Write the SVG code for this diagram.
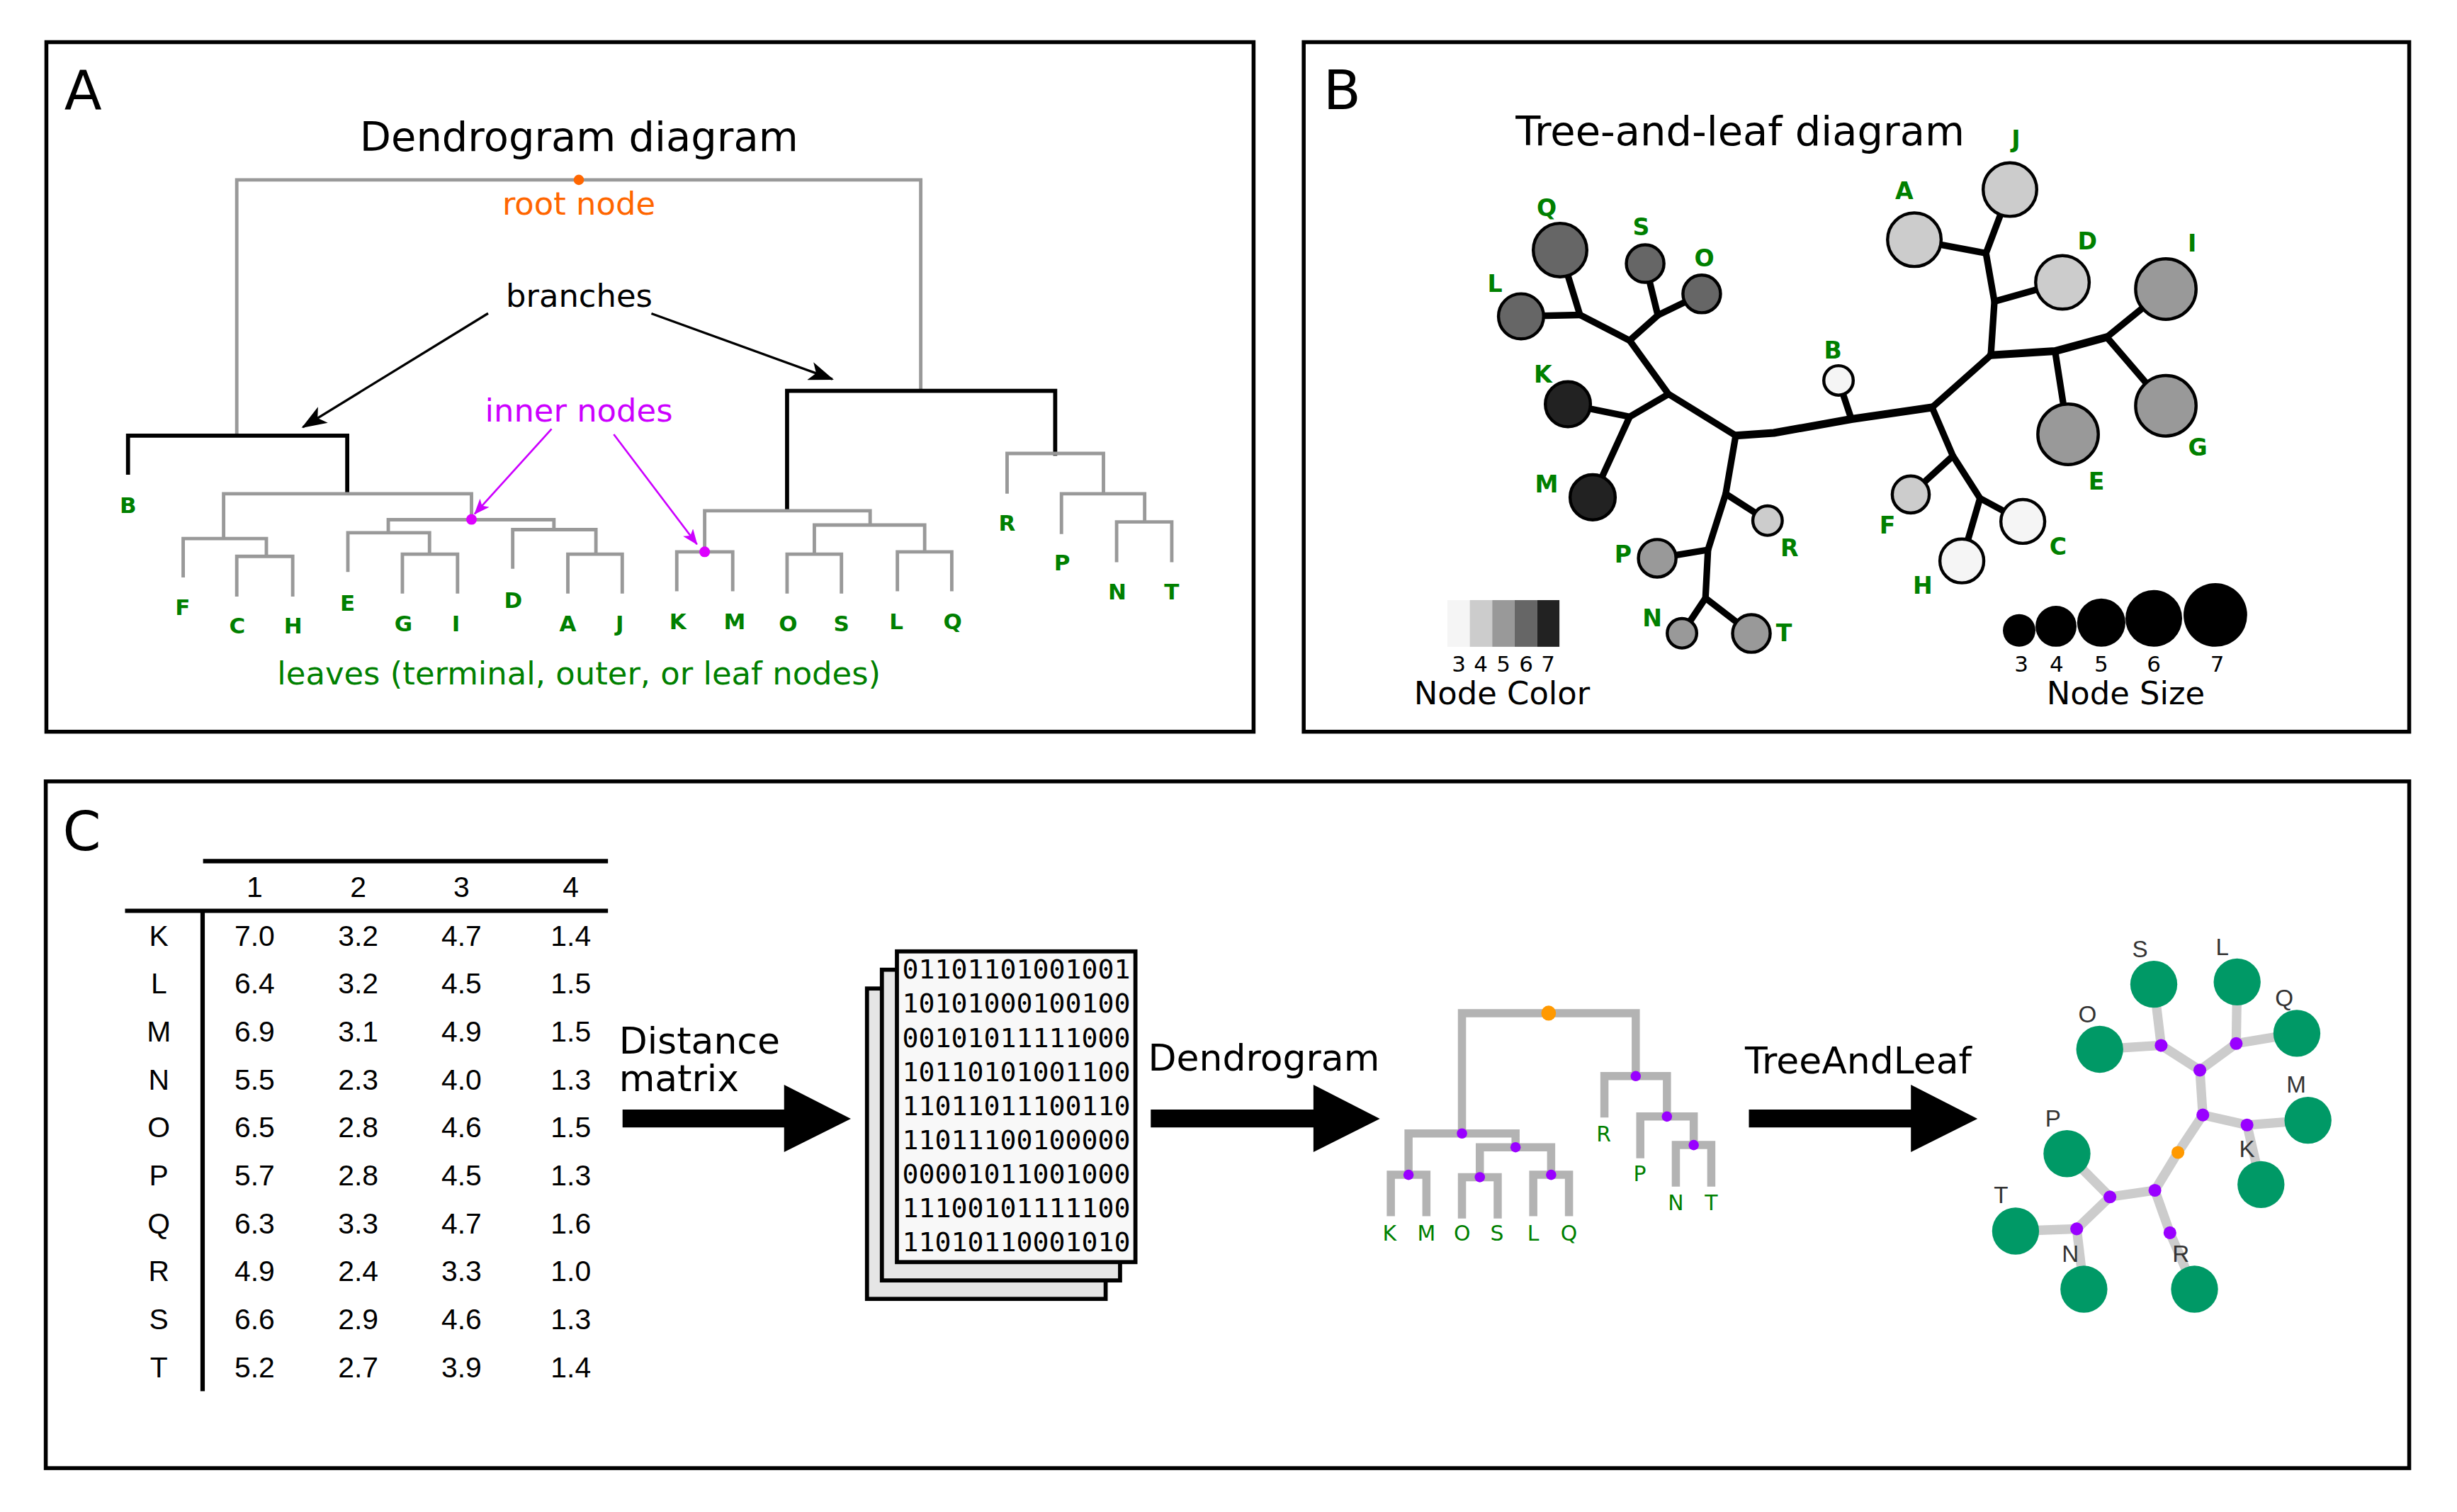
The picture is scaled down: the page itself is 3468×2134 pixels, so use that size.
<svg xmlns="http://www.w3.org/2000/svg" width="3468" height="2134" viewBox="0 0 3468 2134">
<defs>
<style>
.t{font-family:"DejaVu Sans","Liberation Sans",sans-serif}
.ttl{font-family:"DejaVu Sans",sans-serif;font-size:26px;fill:#000;text-anchor:middle}
.pl{font-family:"DejaVu Sans",sans-serif;font-size:35px;fill:#000}
.ann{font-family:"DejaVu Sans",sans-serif;font-size:20.3px;text-anchor:middle}
.lbA{font-family:"DejaVu Sans",sans-serif;font-weight:bold;font-size:14px;fill:#008000;text-anchor:middle}
.lbB{font-family:"DejaVu Sans",sans-serif;font-weight:bold;font-size:15px;fill:#008000;text-anchor:middle}
.gray{fill:none;stroke:#999999;stroke-width:2.2}
.blk{fill:none;stroke:#000;stroke-width:2.6}
.bedge{fill:none;stroke:#000;stroke-width:4.2;stroke-linecap:round;stroke-linejoin:round}
.bnode{stroke:#000;stroke-width:2}
.leg{font-family:"DejaVu Sans",sans-serif;font-size:14px;fill:#000;text-anchor:middle}
.tab{font-family:"Liberation Sans",Arial,sans-serif;font-size:18.5px;fill:#000;text-anchor:middle}
.mono{font-family:"DejaVu Sans Mono","Liberation Mono",monospace;font-size:17px;fill:#000}
.big{font-family:"DejaVu Sans",sans-serif;font-size:23.5px;fill:#000}
.cg{fill:none;stroke:#b3b3b3;stroke-width:5.2}
.cl{font-family:"DejaVu Sans",sans-serif;font-size:13.5px;fill:#008000;text-anchor:middle}
.pd{fill:#9900ff}
.tl{fill:none;stroke:#cccccc;stroke-width:6}
.tn{fill:#009966}
.tlab{font-family:"Liberation Sans",Arial,sans-serif;font-size:15px;fill:#333333;text-anchor:middle}
.page{stroke:#000;stroke-width:2.6}
.box{fill:none;stroke:#000;stroke-width:2.5}
</style>
<marker id="ahB" markerUnits="userSpaceOnUse" viewBox="0 0 16 12" refX="15" refY="6" markerWidth="16" markerHeight="12" orient="auto">
<path d="M0,0 L16,6 L0,12 L4,6 z" fill="#000"/>
</marker>
<marker id="ahM" markerUnits="userSpaceOnUse" viewBox="0 0 10 8" refX="9.5" refY="4" markerWidth="10" markerHeight="8" orient="auto">
<path d="M0,0 L10,4 L0,8 L2.5,4 z" fill="#cc00ff"/>
</marker>
</defs>
<rect x="0" y="0" width="3468" height="2134" fill="#fff"/>
<g transform="scale(2.21173,2.2114)">

<!-- ================= PANEL A ================= -->
<g id="panelA">
<rect class="box" x="29.6" y="26.9" width="770.4" height="440.1"/>
<text class="pl" x="41" y="69.7">A</text>
<text class="ttl" x="369.5" y="96.2">Dendrogram diagram</text>

<g id="a-connectors">
<path class="gray" d="M151.1,277.5 V114.8 H587.6 V249.5"/>
<path class="blk" d="M81.7,303 V278 H221.6 V316"/>
<path class="gray" d="M142.7,343.7 V315.1 H300.9 V331.4"/>
<path class="gray" d="M116.9,368.5 V343.7 H170 V355.1"/>
<path class="gray" d="M151.1,380.8 V355.1 H186.8 V380.8"/>
<path class="gray" d="M247.8,340 V331.7 H353.5 V338"/>
<path class="gray" d="M222,365 V340 H274.1 V353.7"/>
<path class="gray" d="M256.8,378.8 V353.7 H292 V378.8"/>
<path class="gray" d="M327.2,363 V338 H380.3 V353.7"/>
<path class="gray" d="M362.4,378.8 V353.7 H397.1 V378.8"/>
<path class="blk" d="M502.3,326.6 V249.5 H673.4 V290.9"/>
<path class="gray" d="M449.7,352.2 V326 H555.3 V335.1"/>
<path class="gray" d="M431.9,377.4 V352.2 H467.6 V377.4"/>
<path class="gray" d="M519.7,353.7 V335.1 H590.1 V352.2"/>
<path class="gray" d="M502.3,378.8 V353.7 H537 V378.8"/>
<path class="gray" d="M572.7,377.4 V352.2 H607.4 V377.4"/>
<path class="gray" d="M642.7,315.1 V289.4 H704.2 V315.1"/>
<path class="gray" d="M677.4,340.8 V315.1 H730.5 V333.1"/>
<path class="gray" d="M712.6,358.8 V333.1 H747.8 V358.8"/>
<line x1="311.5" y1="200" x2="193.3" y2="272.6" stroke="#000" stroke-width="1.5" marker-end="url(#ahB)"/>
<line x1="415.7" y1="200.1" x2="531.2" y2="242" stroke="#000" stroke-width="1.5" marker-end="url(#ahB)"/>
<line x1="352" y1="273.8" x2="302.9" y2="328" stroke="#cc00ff" stroke-width="1.2" marker-end="url(#ahM)"/>
<line x1="391.7" y1="277.2" x2="444.8" y2="347.4" stroke="#cc00ff" stroke-width="1.2" marker-end="url(#ahM)"/>
</g>

<g id="a-root"><circle cx="369.4" cy="114.8" r="3.3" fill="#ff6600"/></g>
<g id="a-inner1"><circle cx="300.9" cy="331.5" r="3.4" fill="#dd00ff"/></g>
<g id="a-inner2"><circle cx="449.7" cy="352.2" r="3.4" fill="#dd00ff"/></g>

<text class="ann" x="369.4" y="137" fill="#ff6600">root node</text>
<text class="ann" x="369.6" y="196" fill="#000">branches</text>
<text class="ann" x="369.4" y="269" fill="#cc00ff">inner nodes</text>
<text class="ann" x="369.5" y="437" fill="#008000">leaves (terminal, outer, or leaf nodes)</text>

<g id="a-leaves">
<g id="a-leaf-B"><text class="lbA" x="81.7" y="327.4">B</text></g>
<g id="a-leaf-F"><text class="lbA" x="116.6" y="392.4">F</text></g>
<g id="a-leaf-C"><text class="lbA" x="151.4" y="404.4">C</text></g>
<g id="a-leaf-H"><text class="lbA" x="187" y="404.4">H</text></g>
<g id="a-leaf-E"><text class="lbA" x="221.8" y="389.6">E</text></g>
<g id="a-leaf-G"><text class="lbA" x="257.5" y="403">G</text></g>
<g id="a-leaf-I"><text class="lbA" x="291" y="403">I</text></g>
<g id="a-leaf-D"><text class="lbA" x="327.5" y="387.9">D</text></g>
<g id="a-leaf-A"><text class="lbA" x="362.4" y="403">A</text></g>
<g id="a-leaf-J"><text class="lbA" x="395.5" y="403">J</text></g>
<g id="a-leaf-K"><text class="lbA" x="432.6" y="401.6">K</text></g>
<g id="a-leaf-M"><text class="lbA" x="468.8" y="401.6">M</text></g>
<g id="a-leaf-O"><text class="lbA" x="503" y="403">O</text></g>
<g id="a-leaf-S"><text class="lbA" x="537" y="403">S</text></g>
<g id="a-leaf-L"><text class="lbA" x="572" y="401.6">L</text></g>
<g id="a-leaf-Q"><text class="lbA" x="608" y="401.6">Q</text></g>
<g id="a-leaf-R"><text class="lbA" x="642.7" y="338.8">R</text></g>
<g id="a-leaf-P"><text class="lbA" x="677.8" y="363.9">P</text></g>
<g id="a-leaf-N"><text class="lbA" x="713" y="382.5">N</text></g>
<g id="a-leaf-T"><text class="lbA" x="747.8" y="382.5">T</text></g>
</g>
</g>

<!-- ================= PANEL B ================= -->
<g id="panelB">
<rect class="box" x="832" y="26.9" width="705.5" height="440.1"/>
<text class="pl" x="844.5" y="69.7">B</text>
<text class="ttl" x="1110.5" y="92.5">Tree-and-leaf diagram</text>

<g id="b-connectors">
<polyline class="bedge" points="995.6,159.6 1008.3,201 970.7,201.9"/>
<polyline class="bedge" points="1049.9,168.2 1058,201.2 1086,187.6"/>
<polyline class="bedge" points="1008.3,201 1040,217.3 1058,201.2"/>
<polyline class="bedge" points="1040,217.3 1064.8,251.5 1107.7,278"/>
<polyline class="bedge" points="1064.8,251.5 1040,266 1000.6,258"/>
<line class="bedge" x1="1040" y1="266" x2="1016.4" y2="317.4"/>
<polyline class="bedge" style="stroke-width:5" points="1107.7,278 1132,276.3 1181.5,267.5 1233,260"/>
<line class="bedge" x1="1181.5" y1="267.5" x2="1173.3" y2="242.8"/>
<polyline class="bedge" points="1233,260 1270.5,226.7 1272.8,192.4 1267.4,161.6 1282.7,121"/>
<line class="bedge" x1="1272.8" y1="192.4" x2="1316.2" y2="180.2"/>
<line class="bedge" x1="1267.4" y1="161.6" x2="1221.7" y2="153"/>
<polyline class="bedge" style="stroke-width:5" points="1270.5,226.7 1311.5,224.1 1344.5,215.2"/>
<line class="bedge" x1="1311.5" y1="224.1" x2="1319.8" y2="277.2"/>
<line class="bedge" x1="1344.5" y1="215.2" x2="1382.2" y2="184.5"/>
<line class="bedge" x1="1344.5" y1="215.2" x2="1382.2" y2="259"/>
<polyline class="bedge" points="1233,260 1246.3,291 1219.4,315.6"/>
<polyline class="bedge" points="1246.3,291 1263.6,318 1290.9,332.8"/>
<line class="bedge" x1="1263.6" y1="318" x2="1252" y2="358"/>
<polyline class="bedge" points="1107.7,278 1101.3,315.2 1128,332.3"/>
<polyline class="bedge" points="1101.3,315.2 1090,350.9 1057.6,356.3"/>
<polyline class="bedge" points="1090,350.9 1088.4,381.7 1073.4,404.2"/>
<line class="bedge" x1="1088.4" y1="381.7" x2="1117.7" y2="404.3"/>
</g>

<g id="b-node-Q"><circle class="bnode" cx="995.6" cy="159.6" r="17.1" fill="#666666"/><text class="lbB" x="987" y="138">Q</text></g>
<g id="b-node-L"><circle class="bnode" cx="970.7" cy="201.9" r="14.4" fill="#666666"/><text class="lbB" x="954" y="186.4">L</text></g>
<g id="b-node-S"><circle class="bnode" cx="1049.9" cy="168.2" r="12" fill="#666666"/><text class="lbB" x="1047.4" y="150.2">S</text></g>
<g id="b-node-O"><circle class="bnode" cx="1086" cy="187.6" r="12" fill="#666666"/><text class="lbB" x="1087.6" y="170.2">O</text></g>
<g id="b-node-K"><circle class="bnode" cx="1000.6" cy="258" r="14.4" fill="#222222"/><text class="lbB" x="984.7" y="244.4">K</text></g>
<g id="b-node-M"><circle class="bnode" cx="1016.4" cy="317.4" r="14.4" fill="#222222"/><text class="lbB" x="987" y="314.3">M</text></g>
<g id="b-node-B"><circle class="bnode" cx="1173.3" cy="242.8" r="9.4" fill="#f5f5f5"/><text class="lbB" x="1169.7" y="228.7">B</text></g>
<g id="b-node-A"><circle class="bnode" cx="1221.7" cy="153" r="17.1" fill="#cccccc"/><text class="lbB" x="1215.3" y="127">A</text></g>
<g id="b-node-J"><circle class="bnode" cx="1282.7" cy="121" r="17.1" fill="#cccccc"/><text class="lbB" x="1286.5" y="94.2">J</text></g>
<g id="b-node-D"><circle class="bnode" cx="1316.2" cy="180.2" r="17.1" fill="#cccccc"/><text class="lbB" x="1332.1" y="159.3">D</text></g>
<g id="b-node-I"><circle class="bnode" cx="1382.2" cy="184.5" r="19.3" fill="#999999"/><text class="lbB" x="1399" y="160.4">I</text></g>
<g id="b-node-G"><circle class="bnode" cx="1382.2" cy="259" r="19.3" fill="#999999"/><text class="lbB" x="1402.6" y="290.6">G</text></g>
<g id="b-node-E"><circle class="bnode" cx="1319.8" cy="277.2" r="19.3" fill="#999999"/><text class="lbB" x="1337.9" y="312.6">E</text></g>
<g id="b-node-F"><circle class="bnode" cx="1219.4" cy="315.6" r="11.8" fill="#cccccc"/><text class="lbB" x="1204.5" y="340.6">F</text></g>
<g id="b-node-C"><circle class="bnode" cx="1290.9" cy="332.8" r="14" fill="#f5f5f5"/><text class="lbB" x="1313.4" y="354">C</text></g>
<g id="b-node-H"><circle class="bnode" cx="1252" cy="358" r="14" fill="#f5f5f5"/><text class="lbB" x="1227.1" y="379.1">H</text></g>
<g id="b-node-R"><circle class="bnode" cx="1128" cy="332.3" r="9.4" fill="#cccccc"/><text class="lbB" x="1142" y="354.8">R</text></g>
<g id="b-node-P"><circle class="bnode" cx="1057.6" cy="356.3" r="12" fill="#999999"/><text class="lbB" x="1035.8" y="359.1">P</text></g>
<g id="b-node-N"><circle class="bnode" cx="1073.4" cy="404.2" r="9.4" fill="#999999"/><text class="lbB" x="1054.4" y="399.9">N</text></g>
<g id="b-node-T"><circle class="bnode" cx="1117.7" cy="404.3" r="12" fill="#999999"/><text class="lbB" x="1138.5" y="409.1">T</text></g>

<g id="b-legend-color">
<rect x="923.7" y="383" width="14.3" height="29.8" fill="#f5f5f5"/>
<rect x="938" y="383" width="14.3" height="29.8" fill="#cccccc"/>
<rect x="952.3" y="383" width="14.3" height="29.8" fill="#999999"/>
<rect x="966.6" y="383" width="14.3" height="29.8" fill="#666666"/>
<rect x="980.9" y="383" width="14.3" height="29.8" fill="#222222"/>
<text class="leg" x="931" y="428.6">3</text>
<text class="leg" x="945" y="428.6">4</text>
<text class="leg" x="959.5" y="428.6">5</text>
<text class="leg" x="974" y="428.6">6</text>
<text class="leg" x="988" y="428.6">7</text>
<text class="ann" x="958.5" y="449.4" fill="#000">Node Color</text>
</g>
<g id="b-legend-size">
<circle cx="1288.6" cy="402.4" r="10.4" fill="#000"/>
<circle cx="1312.1" cy="399.7" r="13.1" fill="#000"/>
<circle cx="1341" cy="397.4" r="15.4" fill="#000"/>
<circle cx="1374.5" cy="394.7" r="18.1" fill="#000"/>
<circle cx="1413.8" cy="392.5" r="20.3" fill="#000"/>
<text class="leg" x="1290" y="428.6">3</text>
<text class="leg" x="1312.5" y="428.6">4</text>
<text class="leg" x="1341" y="428.6">5</text>
<text class="leg" x="1374.5" y="428.6">6</text>
<text class="leg" x="1415" y="428.6">7</text>
<text class="ann" x="1356.6" y="449.4" fill="#000">Node Size</text>
</g>
</g>

<!-- ================= PANEL C ================= -->
<g id="panelC">
<rect class="box" x="29.2" y="498.7" width="1508.3" height="438.3"/>
<text class="pl" x="40" y="542.6">C</text>

<g id="c-table">
<line x1="129.6" y1="549.6" x2="388" y2="549.6" stroke="#000" stroke-width="2.8"/>
<line x1="79.8" y1="581.3" x2="388" y2="581.3" stroke="#000" stroke-width="2.8"/>
<line x1="129.3" y1="581.3" x2="129.3" y2="887.9" stroke="#000" stroke-width="2.8"/>
<text class="tab" x="162.5" y="572.5">1</text>
<text class="tab" x="228.6" y="572.5">2</text>
<text class="tab" x="294.5" y="572.5">3</text>
<text class="tab" x="364.3" y="572.5">4</text>
<g>
<text class="tab" x="101.4" y="603.6">K</text><text class="tab" x="162.5" y="603.6">7.0</text><text class="tab" x="228.6" y="603.6">3.2</text><text class="tab" x="294.5" y="603.6">4.7</text><text class="tab" x="364.3" y="603.6">1.4</text>
<text class="tab" x="101.4" y="634.2">L</text><text class="tab" x="162.5" y="634.2">6.4</text><text class="tab" x="228.6" y="634.2">3.2</text><text class="tab" x="294.5" y="634.2">4.5</text><text class="tab" x="364.3" y="634.2">1.5</text>
<text class="tab" x="101.4" y="664.8">M</text><text class="tab" x="162.5" y="664.8">6.9</text><text class="tab" x="228.6" y="664.8">3.1</text><text class="tab" x="294.5" y="664.8">4.9</text><text class="tab" x="364.3" y="664.8">1.5</text>
<text class="tab" x="101.4" y="695.4">N</text><text class="tab" x="162.5" y="695.4">5.5</text><text class="tab" x="228.6" y="695.4">2.3</text><text class="tab" x="294.5" y="695.4">4.0</text><text class="tab" x="364.3" y="695.4">1.3</text>
<text class="tab" x="101.4" y="726">O</text><text class="tab" x="162.5" y="726">6.5</text><text class="tab" x="228.6" y="726">2.8</text><text class="tab" x="294.5" y="726">4.6</text><text class="tab" x="364.3" y="726">1.5</text>
<text class="tab" x="101.4" y="756.6">P</text><text class="tab" x="162.5" y="756.6">5.7</text><text class="tab" x="228.6" y="756.6">2.8</text><text class="tab" x="294.5" y="756.6">4.5</text><text class="tab" x="364.3" y="756.6">1.3</text>
<text class="tab" x="101.4" y="787.2">Q</text><text class="tab" x="162.5" y="787.2">6.3</text><text class="tab" x="228.6" y="787.2">3.3</text><text class="tab" x="294.5" y="787.2">4.7</text><text class="tab" x="364.3" y="787.2">1.6</text>
<text class="tab" x="101.4" y="817.8">R</text><text class="tab" x="162.5" y="817.8">4.9</text><text class="tab" x="228.6" y="817.8">2.4</text><text class="tab" x="294.5" y="817.8">3.3</text><text class="tab" x="364.3" y="817.8">1.0</text>
<text class="tab" x="101.4" y="848.4">S</text><text class="tab" x="162.5" y="848.4">6.6</text><text class="tab" x="228.6" y="848.4">2.9</text><text class="tab" x="294.5" y="848.4">4.6</text><text class="tab" x="364.3" y="848.4">1.3</text>
<text class="tab" x="101.4" y="879">T</text><text class="tab" x="162.5" y="879">5.2</text><text class="tab" x="228.6" y="879">2.7</text><text class="tab" x="294.5" y="879">3.9</text><text class="tab" x="364.3" y="879">1.4</text>
</g>
</g>

<text class="big" x="395" y="672.6">Distance</text>
<text class="big" x="395" y="696.6">matrix</text>
<polygon points="397.3,708.2 500.4,708.2 500.4,692.3 543,714 500.4,735.3 500.4,719.6 397.3,719.6" fill="#000"/>

<g id="c-matrix">
<rect class="page" x="553.3" y="630.9" width="152.3" height="198.1" fill="#e5e5e5"/>
<rect class="page" x="562.8" y="618.9" width="152" height="198.3" fill="#e5e5e5"/>
<rect class="page" x="572.4" y="607.2" width="152.2" height="198.3" fill="#f8f8f8"/>
<text class="mono" x="575.8" y="624.6" textLength="145.6" lengthAdjust="spacingAndGlyphs">01101101001001</text>
<text class="mono" x="575.8" y="646.4" textLength="145.6" lengthAdjust="spacingAndGlyphs">10101000100100</text>
<text class="mono" x="575.8" y="668.2" textLength="145.6" lengthAdjust="spacingAndGlyphs">00101011111000</text>
<text class="mono" x="575.8" y="689.9" textLength="145.6" lengthAdjust="spacingAndGlyphs">10110101001100</text>
<text class="mono" x="575.8" y="711.7" textLength="145.6" lengthAdjust="spacingAndGlyphs">11011011100110</text>
<text class="mono" x="575.8" y="733.5" textLength="145.6" lengthAdjust="spacingAndGlyphs">11011100100000</text>
<text class="mono" x="575.8" y="755.3" textLength="145.6" lengthAdjust="spacingAndGlyphs">00001011001000</text>
<text class="mono" x="575.8" y="777" textLength="145.6" lengthAdjust="spacingAndGlyphs">11100101111100</text>
<text class="mono" x="575.8" y="798.8" textLength="145.6" lengthAdjust="spacingAndGlyphs">11010110001010</text>
</g>

<text class="big" x="732.7" y="683.5">Dendrogram</text>
<polygon points="734.4,708.2 838.2,708.2 838.2,692.3 880.6,714 838.2,735.3 838.2,719.6 734.4,719.6" fill="#000"/>

<g id="c-dendrogram">
<g id="c-dendro-connectors">
<path class="cg" d="M933,723.4 V646.6 H1043.9 V686.8"/>
<path class="cg" d="M898.9,749.8 V723.4 H967.2 V732.2"/>
<path class="cg" d="M887.6,776.2 V749.8 H910.3 V776.2"/>
<path class="cg" d="M944.4,751.3 V732.2 H989.9 V749.8"/>
<path class="cg" d="M933,777.7 V751.3 H955.8 V777.7"/>
<path class="cg" d="M978.5,776.2 V749.8 H1001.3 V776.2"/>
<path class="cg" d="M1023.9,713.2 V686.8 H1063.8 V712.6"/>
<path class="cg" d="M1046.8,739.2 V712.6 H1080.9 V730.8"/>
<path class="cg" d="M1069.5,757.3 V730.8 H1092.1 V757.3"/>
</g>
<g id="c-dendro-root"><ellipse cx="988.3" cy="646.6" rx="4.7" ry="4.8" fill="#ff9900"/></g>
<g id="c-dendro-inner">
<circle class="pd" cx="933" cy="723.4" r="3.3"/>
<circle class="pd" cx="898.9" cy="749.8" r="3.3"/>
<circle class="pd" cx="967.2" cy="732.2" r="3.3"/>
<circle class="pd" cx="944.4" cy="751.3" r="3.3"/>
<circle class="pd" cx="989.9" cy="749.8" r="3.3"/>
<circle class="pd" cx="1043.9" cy="686.8" r="3.3"/>
<circle class="pd" cx="1063.8" cy="712.6" r="3.3"/>
<circle class="pd" cx="1080.9" cy="730.8" r="3.3"/>
</g>
<g id="c-dendro-leaves">
<text class="cl" x="886.8" y="791.6">K</text>
<text class="cl" x="910.3" y="791.6">M</text>
<text class="cl" x="933.1" y="791.6">O</text>
<text class="cl" x="955.4" y="791.6">S</text>
<text class="cl" x="978.5" y="791.6">L</text>
<text class="cl" x="1001.3" y="791.6">Q</text>
<text class="cl" x="1023.5" y="728.3">R</text>
<text class="cl" x="1046.5" y="753.9">P</text>
<text class="cl" x="1069.5" y="772.3">N</text>
<text class="cl" x="1092.1" y="772.3">T</text>
</g>
</g>

<text class="big" x="1113.6" y="685.3">TreeAndLeaf</text>
<polygon points="1116.1,708.2 1219.5,708.2 1219.5,692.3 1262,714 1219.5,735.3 1219.5,719.6 1116.1,719.6" fill="#000"/>

<g id="c-treeleaf">
<g id="c-tl-connectors">
<polyline class="tl" points="1374.5,628.2 1379.2,667.2 1340,669.7"/>
<polyline class="tl" points="1379.2,667.2 1403.9,683 1427.1,666 1427.7,626.7"/>
<line class="tl" x1="1427.1" y1="666" x2="1465.8" y2="659.5"/>
<polyline class="tl" points="1403.9,683 1405.8,711.6 1434,718 1472.9,715"/>
<line class="tl" x1="1434" y1="718" x2="1442.9" y2="756"/>
<polyline class="tl" points="1405.8,711.6 1389.9,735.5 1375.2,759.7 1384.8,786.8 1400.5,822.8"/>
<polyline class="tl" points="1375.2,759.7 1346.5,763.9 1319.1,736.3"/>
<polyline class="tl" points="1346.5,763.9 1325.3,784.3 1286.3,785.7"/>
<line class="tl" x1="1325.3" y1="784.3" x2="1329.9" y2="822.8"/>
</g>
<g id="c-tl-inner">
<circle class="pd" cx="1379.2" cy="667.2" r="4.1"/>
<circle class="pd" cx="1427.1" cy="666" r="4.1"/>
<circle class="pd" cx="1403.9" cy="683" r="4.1"/>
<circle class="pd" cx="1405.8" cy="711.6" r="4.1"/>
<circle class="pd" cx="1434" cy="718" r="4.1"/>
<circle class="pd" cx="1375.2" cy="759.7" r="4.1"/>
<circle class="pd" cx="1384.8" cy="786.8" r="4.1"/>
<circle class="pd" cx="1346.5" cy="763.9" r="4.1"/>
<circle class="pd" cx="1325.3" cy="784.3" r="4.1"/>
<circle cx="1389.9" cy="735.5" r="4.1" fill="#ff9900"/>
</g>
<g id="c-tl-S"><circle class="tn" cx="1374.5" cy="628.2" r="15"/><text class="tlab" x="1365.7" y="611">S</text></g>
<g id="c-tl-L"><circle class="tn" cx="1427.7" cy="626.7" r="15"/><text class="tlab" x="1418.2" y="609.5">L</text></g>
<g id="c-tl-Q"><circle class="tn" cx="1465.8" cy="659.5" r="15"/><text class="tlab" x="1457.7" y="642.2">Q</text></g>
<g id="c-tl-O"><circle class="tn" cx="1340" cy="669.7" r="15"/><text class="tlab" x="1332.2" y="652.6">O</text></g>
<g id="c-tl-M"><circle class="tn" cx="1472.9" cy="715" r="15"/><text class="tlab" x="1465.4" y="697.5">M</text></g>
<g id="c-tl-K"><circle class="tn" cx="1442.9" cy="756" r="15"/><text class="tlab" x="1434" y="738.6">K</text></g>
<g id="c-tl-P"><circle class="tn" cx="1319.1" cy="736.3" r="15"/><text class="tlab" x="1310.2" y="719">P</text></g>
<g id="c-tl-T"><circle class="tn" cx="1286.3" cy="785.7" r="15"/><text class="tlab" x="1277" y="768">T</text></g>
<g id="c-tl-N"><circle class="tn" cx="1329.9" cy="822.8" r="15"/><text class="tlab" x="1321.2" y="805.6">N</text></g>
<g id="c-tl-R"><circle class="tn" cx="1400.5" cy="822.8" r="15"/><text class="tlab" x="1391.8" y="805.3">R</text></g>
</g>
</g>
</g>
</svg>
